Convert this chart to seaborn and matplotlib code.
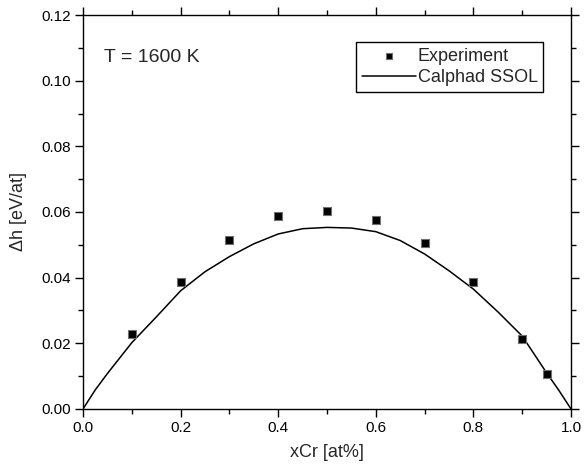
"""Mixing enthalpy of Fe-Cr at 1600 K: experiment vs Calphad SSOL."""

import matplotlib

matplotlib.use("Agg")
import matplotlib.pyplot as plt  # noqa: E402
import pandas as pd  # noqa: E402
import seaborn as sns  # noqa: E402
from matplotlib.ticker import MultipleLocator  # noqa: E402

# experimental points
exp_x = [0.1, 0.2, 0.3, 0.4, 0.5, 0.6, 0.7, 0.8, 0.9, 0.95]
exp_dh = [0.0227, 0.0388, 0.0516, 0.0589, 0.0603, 0.0575, 0.0506, 0.0388, 0.0212, 0.0105]

# Calphad SSOL curve
calc_x = [0.0, 0.025, 0.05, 0.1, 0.15, 0.2, 0.25, 0.3, 0.35, 0.4, 0.45, 0.5,
          0.55, 0.6, 0.65, 0.7, 0.75, 0.8, 0.85, 0.9, 0.95, 0.975, 1.0]
calc_dh = [0.0, 0.0058, 0.0108, 0.0202, 0.0280, 0.0360, 0.0418, 0.0464, 0.0503,
           0.0533, 0.0549, 0.0553, 0.0551, 0.0540, 0.0513, 0.0472, 0.0421,
           0.0365, 0.0296, 0.0222, 0.0110, 0.0057, 0.0]

exp_df = pd.DataFrame({"x": exp_x, "dh": exp_dh})
calc_df = pd.DataFrame({"x": calc_x, "dh": calc_dh})

sns.set_style("ticks")
plt.rcParams["font.family"] = ["Liberation Sans", "DejaVu Sans"]
plt.rcParams["axes.linewidth"] = 1.0

fig = plt.figure(figsize=(5.85, 4.7), dpi=100)
ax = fig.add_axes([0.142, 0.13, 0.834, 0.838])

sns.lineplot(data=calc_df, x="x", y="dh", ax=ax, color="black", lw=1.1,
             label="Calphad SSOL", sort=False)
sns.scatterplot(data=exp_df, x="x", y="dh", ax=ax, marker="s", s=38,
                color="black", edgecolor="#707070", linewidth=0.8,
                label="Experiment", zorder=5)

ax.set_xlim(0, 1.0)
ax.set_ylim(0, 0.12)
ax.xaxis.set_major_locator(MultipleLocator(0.2))
ax.xaxis.set_minor_locator(MultipleLocator(0.1))
ax.yaxis.set_major_locator(MultipleLocator(0.02))
ax.yaxis.set_minor_locator(MultipleLocator(0.01))
ax.xaxis.set_major_formatter(lambda v, p: f"{v:.1f}")
ax.yaxis.set_major_formatter(lambda v, p: f"{v:.2f}")
ax.tick_params(which="both", direction="out", top=True, right=True,
               width=1.0, labelsize=11, colors="black")
ax.tick_params(which="major", length=5.5)
ax.tick_params(which="minor", length=3.5)
for s in ax.spines.values():
    s.set_visible(True)
    s.set_color("black")

ax.set_xlabel("xCr [at%]", fontsize=13, labelpad=6)
ax.set_ylabel("\u0394h [eV/at]", fontsize=13, labelpad=10)

ax.text(0.043, 0.893, "T = 1600 K", transform=ax.transAxes, fontsize=14,
        ha="left", va="center")

handles, labels = ax.get_legend_handles_labels()
leg = ax.legend(handles[::-1], labels[::-1], loc="upper right",
                bbox_to_anchor=(0.943, 0.931), fontsize=13, frameon=True,
                fancybox=False, edgecolor="black", framealpha=1,
                handlelength=3.0, handletextpad=0.1, borderpad=0.3,
                labelspacing=0.25, borderaxespad=0, markerscale=0.75)
leg.get_frame().set_linewidth(1.0)

fig.savefig("out.png", dpi=100)
